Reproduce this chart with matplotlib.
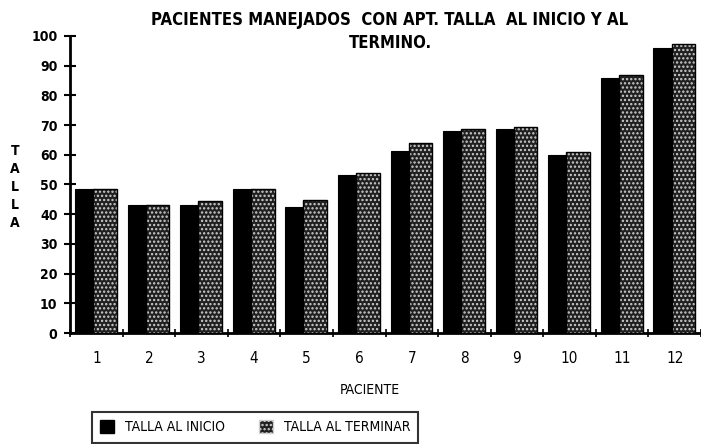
import numpy as np
import matplotlib
matplotlib.use("Agg")
import matplotlib.pyplot as plt
from matplotlib.patches import Patch

# Datos
pacientes      = [str(i) for i in range(1, 13)]
talla_inicio   = [48.5, 43.2, 43.2, 48.6, 42.3, 53.3, 61.3, 67.9, 68.6, 60.0, 86.0, 96.0]
talla_terminar = [48.5, 43.2, 44.6, 48.6, 44.8, 54.0, 63.9, 68.6, 69.2, 60.8, 86.7, 97.3]
y_ticks        = list(range(0, 101, 10))

TITULO = "PACIENTES MANEJADOS  CON APT. TALLA  AL INICIO Y AL\nTERMINO."

plt.rcParams["font.family"] = ["DejaVu Sans"]
plt.rcParams["font.stretch"] = "condensed"
plt.rcParams["hatch.linewidth"] = 1.1

fig = plt.figure(figsize=(7.01, 4.44), dpi=100)
ax = fig.add_axes([0.0999, 0.25, 0.9001, 0.669])

x = np.arange(1, len(pacientes) + 1)

# barra inicio (negra) y barra termino (punteada) ligeramente por delante
ax.bar(x - 0.405, talla_inicio, width=0.40, align="edge",
       color="black", edgecolor="black", linewidth=0.8, zorder=2)
ax.bar(x - 0.06, talla_terminar, width=0.45, align="edge",
       color="#202020", edgecolor="#d0d0d0", hatch="....", linewidth=0, zorder=3)
ax.bar(x - 0.06, talla_terminar, width=0.45, align="edge",
       fill=False, edgecolor="black", linewidth=1.0, zorder=4)

ax.set_xlim(0.5, 12.5)
ax.set_ylim(0, 100)
ax.set_yticks(y_ticks)
ax.set_yticklabels([str(v) for v in y_ticks], fontsize=10, fontweight="bold")
ax.set_xticks(x)
ax.set_xticklabels(pacientes, fontsize=11)
ax.tick_params(axis="x", length=0, pad=13)
ax.set_xticks(np.arange(0.5, 13, 1), minor=True)
ax.tick_params(axis="x", which="minor", direction="inout", length=6, width=1.2)
ax.tick_params(axis="y", direction="inout", length=8, width=1.5, pad=5)

for lado in ["top", "right"]:
    ax.spines[lado].set_visible(False)
ax.spines["left"].set_linewidth(2)
ax.spines["bottom"].set_linewidth(2)

fig.text(390 / 701, 1 - 11 / 444, TITULO, ha="center", va="top",
         fontsize=12, fontweight="bold", linespacing=1.35)
fig.text(15 / 701, 1 - 187 / 444, "T\nA\nL\nL\nA", ha="center", va="center",
         fontsize=10, fontweight="bold", linespacing=1.38)
fig.text(370 / 701, 1 - 390 / 444, "PACIENTE", ha="center", va="center",
         fontsize=10)

handles = [
    Patch(facecolor="black", edgecolor="black", label="TALLA AL INICIO"),
    Patch(facecolor="#202020", edgecolor="#d0d0d0", hatch="....", label="TALLA AL TERMINAR"),
]
leg = fig.legend(handles=handles, loc="upper left",
                 bbox_to_anchor=(92 / 701, 1 - 412 / 444), ncol=2,
                 frameon=True, fancybox=False, edgecolor="black",
                 handlelength=1.0, handleheight=1.0, columnspacing=2.4,
                 borderpad=0.6, borderaxespad=0,
                 prop={"size": 10, "stretch": "condensed"})
leg.get_frame().set_linewidth(1.5)

fig.savefig("out.png", dpi=100)
